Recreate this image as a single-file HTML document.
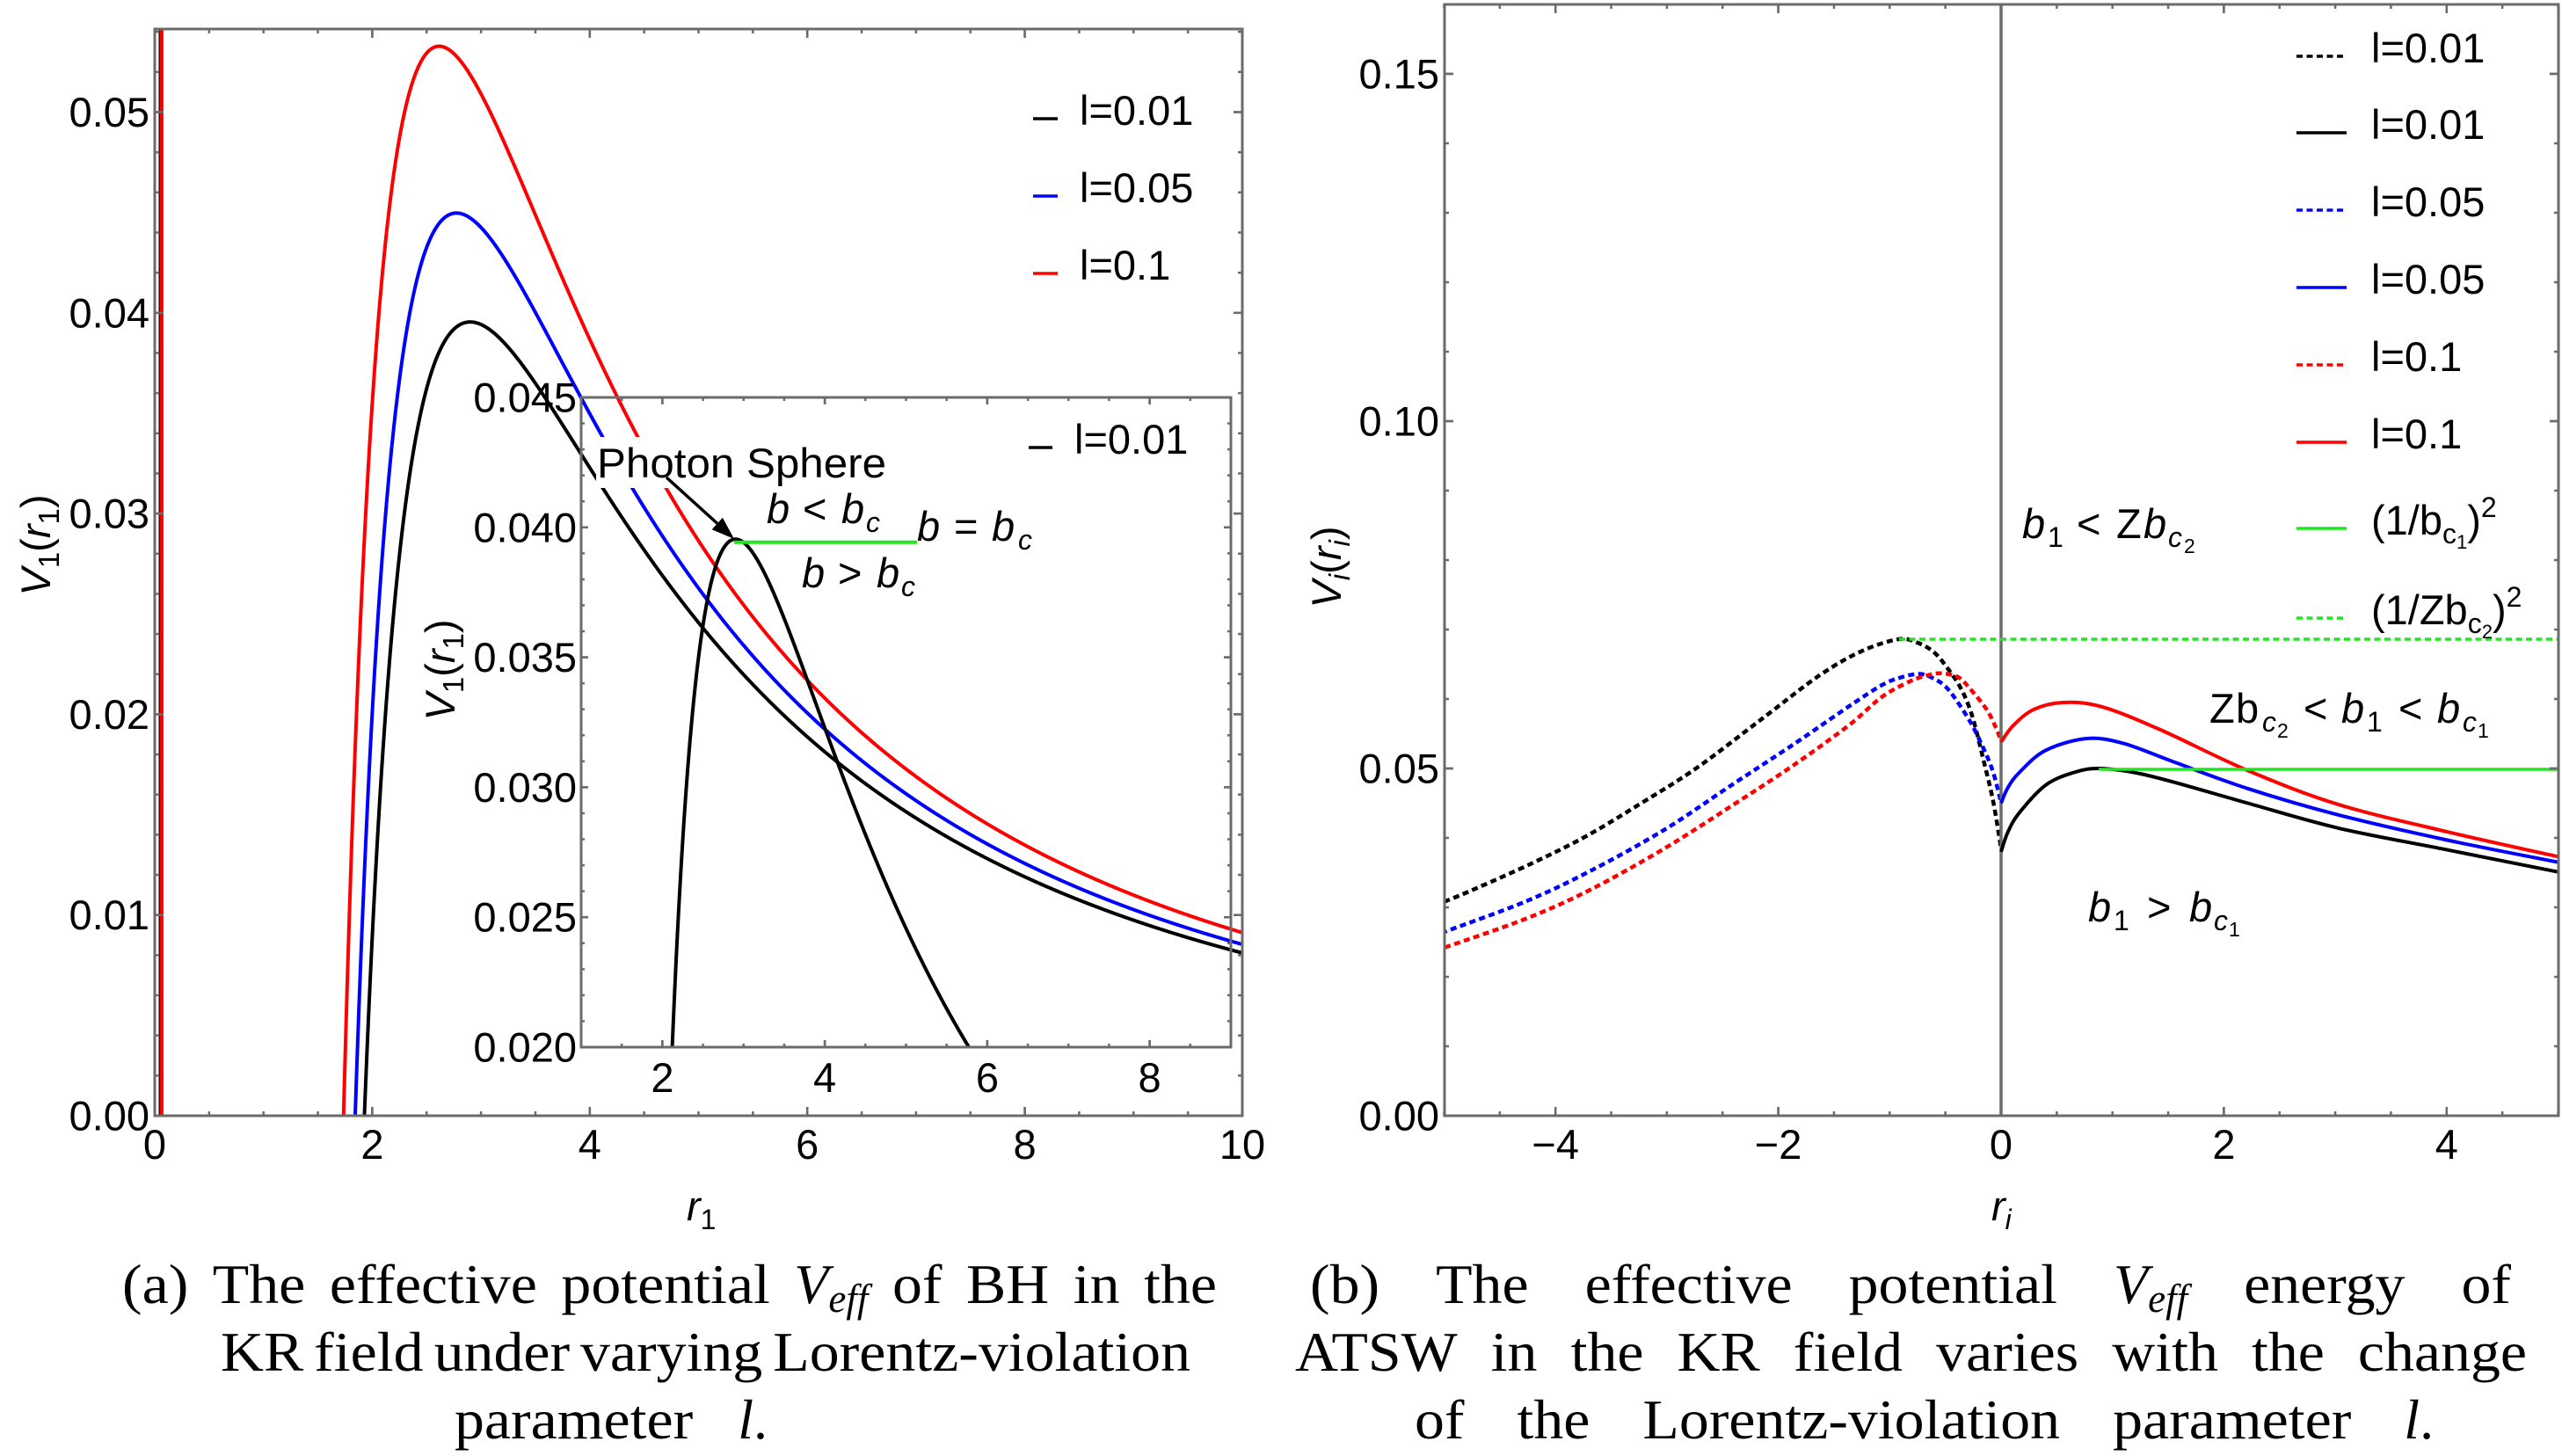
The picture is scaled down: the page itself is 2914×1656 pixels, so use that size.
<!DOCTYPE html>
<html><head><meta charset="utf-8">
<style>
html,body{margin:0;padding:0;background:#fff;}
svg{display:block;}
text{font-family:"Liberation Sans",Arial,sans-serif;fill:#000;}
.s{font-family:"Liberation Serif","Times New Roman",serif;}
.i{font-style:italic;}
</style></head><body>
<svg id="c" width="2914" height="1656" viewBox="0 0 2914 1656" xmlns="http://www.w3.org/2000/svg">
<rect x="0" y="0" width="2914" height="1656" fill="#fff"/>
<defs>
<clipPath id="cL"><rect x="176" y="33" width="1237" height="1236"/></clipPath>
<clipPath id="cI"><rect x="661" y="452" width="739" height="739"/></clipPath>
<clipPath id="cR"><rect x="1643" y="5" width="1267" height="1264"/></clipPath>
</defs>

<g id="gMain" clip-path="url(#cL)" fill="none" stroke-width="4" stroke-linejoin="round"></g>
<rect x="678" y="497" width="334" height="58" fill="#fff"/>
<g id="gIn" clip-path="url(#cI)" fill="none" stroke-width="4" stroke-linejoin="round"></g>

<rect x="176" y="33" width="1237" height="1236" fill="none" stroke="#6b6b6b" stroke-width="3"/>
<rect x="661" y="452" width="739" height="739" fill="none" stroke="#6b6b6b" stroke-width="3"/>

<g id="gRd" clip-path="url(#cR)" fill="none" stroke-width="4.5" stroke-dasharray="7 4.5"></g>
<line x1="2276" y1="5" x2="2276" y2="1269" stroke="#6b6b6b" stroke-width="3.5"/>
<g id="gRs" clip-path="url(#cR)" fill="none" stroke-width="4" stroke-linejoin="round"></g>
<line x1="2387" y1="875" x2="2910" y2="875" stroke="#22e622" stroke-width="3.5"/>
<line x1="2160" y1="727" x2="2910" y2="727" stroke="#22e622" stroke-width="3.5" stroke-dasharray="7 4.5"/>
<rect x="1643" y="5" width="1267" height="1264" fill="none" stroke="#6b6b6b" stroke-width="3"/>

<g id="gTicks" stroke="#6b6b6b" stroke-width="2.5"></g>

<line x1="835" y1="616.7" x2="1043" y2="616.7" stroke="#22e622" stroke-width="4"/>
<line x1="758" y1="543" x2="816" y2="595.5" stroke="#000" stroke-width="3.5"/>
<polygon points="835,613 809.7,602.2 821.9,588.8" fill="#000"/>

<g font-size="47">
<text x="170" y="1285.5" text-anchor="end">0.00</text>
<text x="170" y="1057.2" text-anchor="end">0.01</text>
<text x="170" y="828.9" text-anchor="end">0.02</text>
<text x="170" y="600.6" text-anchor="end">0.03</text>
<text x="170" y="372.3" text-anchor="end">0.04</text>
<text x="170" y="144" text-anchor="end">0.05</text>
<text x="176" y="1318" text-anchor="middle">0</text>
<text x="423.4" y="1318" text-anchor="middle">2</text>
<text x="670.8" y="1318" text-anchor="middle">4</text>
<text x="918.2" y="1318" text-anchor="middle">6</text>
<text x="1165.6" y="1318" text-anchor="middle">8</text>
<text x="1413" y="1318" text-anchor="middle">10</text>
<text x="656" y="1207.5" text-anchor="end">0.020</text>
<text x="656" y="1059.7" text-anchor="end">0.025</text>
<text x="656" y="911.9" text-anchor="end">0.030</text>
<text x="656" y="764.1" text-anchor="end">0.035</text>
<text x="656" y="616.3" text-anchor="end">0.040</text>
<text x="656" y="468.5" text-anchor="end">0.045</text>
<text x="753.4" y="1242" text-anchor="middle">2</text>
<text x="938.1" y="1242" text-anchor="middle">4</text>
<text x="1122.9" y="1242" text-anchor="middle">6</text>
<text x="1307.6" y="1242" text-anchor="middle">8</text>
<text x="1637" y="1285.5" text-anchor="end">0.00</text>
<text x="1637" y="890.5" text-anchor="end">0.05</text>
<text x="1637" y="495.5" text-anchor="end">0.10</text>
<text x="1637" y="100.5" text-anchor="end">0.15</text>
<text x="1769.2" y="1318" text-anchor="middle">−4</text>
<text x="2022.6" y="1318" text-anchor="middle">−2</text>
<text x="2276" y="1318" text-anchor="middle">0</text>
<text x="2529.4" y="1318" text-anchor="middle">2</text>
<text x="2782.8" y="1318" text-anchor="middle">4</text>

<line x1="1175" y1="135" x2="1203" y2="135" stroke="#000" stroke-width="3.5"/>
<line x1="1175" y1="223" x2="1203" y2="223" stroke="#0000ff" stroke-width="3.5"/>
<line x1="1175" y1="311" x2="1203" y2="311" stroke="#ff0000" stroke-width="3.5"/>
<text x="1228" y="142">l=0.01</text>
<text x="1228" y="230">l=0.05</text>
<text x="1228" y="318">l=0.1</text>
<line x1="1170" y1="509" x2="1197" y2="509" stroke="#000" stroke-width="3.5"/>
<text x="1222" y="516">l=0.01</text>

<text x="679" y="543" textLength="329" lengthAdjust="spacingAndGlyphs">Photon Sphere</text>
<text y="595"><tspan x="872" class="i">b</tspan><tspan x="913">&lt;</tspan><tspan x="957" class="i">b</tspan><tspan x="985" y="605" class="i" font-size="32">c</tspan></text>
<text y="615"><tspan x="1043" class="i">b</tspan><tspan x="1085">=</tspan><tspan x="1128" class="i">b</tspan><tspan x="1158" y="625" class="i" font-size="32">c</tspan></text>
<text y="668"><tspan x="912" class="i">b</tspan><tspan x="953">&gt;</tspan><tspan x="997" class="i">b</tspan><tspan x="1025" y="678" class="i" font-size="32">c</tspan></text>

<line x1="2612" y1="64" x2="2669" y2="64" stroke="#000" stroke-width="3.5" stroke-dasharray="7 4.5"/>
<line x1="2612" y1="151" x2="2669" y2="151" stroke="#000" stroke-width="3.5"/>
<line x1="2612" y1="239" x2="2669" y2="239" stroke="#0000ff" stroke-width="3.5" stroke-dasharray="7 4.5"/>
<line x1="2612" y1="327" x2="2669" y2="327" stroke="#0000ff" stroke-width="3.5"/>
<line x1="2612" y1="415" x2="2669" y2="415" stroke="#ff0000" stroke-width="3.5" stroke-dasharray="7 4.5"/>
<line x1="2612" y1="503" x2="2669" y2="503" stroke="#ff0000" stroke-width="3.5"/>
<line x1="2612" y1="601" x2="2669" y2="601" stroke="#22e622" stroke-width="3.5"/>
<line x1="2612" y1="703" x2="2669" y2="703" stroke="#22e622" stroke-width="3.5" stroke-dasharray="7 4.5"/>
<text x="2697" y="71">l=0.01</text>
<text x="2697" y="158">l=0.01</text>
<text x="2697" y="246">l=0.05</text>
<text x="2697" y="334">l=0.05</text>
<text x="2697" y="422">l=0.1</text>
<text x="2697" y="510">l=0.1</text>
<text x="2697" y="608">(1/b<tspan font-size="32" y="618">c</tspan><tspan font-size="22" y="624">1</tspan><tspan y="608">)</tspan><tspan font-size="32" y="588">2</tspan></text>
<text x="2697" y="710">(1/Zb<tspan font-size="32" y="720">c</tspan><tspan font-size="22" y="726">2</tspan><tspan y="710">)</tspan><tspan font-size="32" y="690">2</tspan></text>

<text y="612"><tspan x="2300" class="i">b</tspan><tspan x="2329" y="622" font-size="32">1</tspan><tspan x="2362" y="612">&lt;</tspan><tspan x="2407" y="612">Z</tspan><tspan x="2438" y="612" class="i">b</tspan><tspan x="2466" y="622" class="i" font-size="32">c</tspan><tspan x="2484" y="629" font-size="23">2</tspan></text>
<text y="822"><tspan x="2513">Z</tspan><tspan x="2543">b</tspan><tspan x="2573" y="832" class="i" font-size="32">c</tspan><tspan x="2590" y="839" font-size="23">2</tspan><tspan x="2620" y="822">&lt;</tspan><tspan x="2663" y="822" class="i">b</tspan><tspan x="2692" y="832" font-size="32">1</tspan><tspan x="2728" y="822">&lt;</tspan><tspan x="2772" y="822" class="i">b</tspan><tspan x="2801" y="832" class="i" font-size="32">c</tspan><tspan x="2818" y="839" font-size="23">1</tspan></text>
<text y="1048"><tspan x="2375" class="i">b</tspan><tspan x="2404" y="1058" font-size="32">1</tspan><tspan x="2442" y="1048">&gt;</tspan><tspan x="2490" y="1048" class="i">b</tspan><tspan x="2518" y="1058" class="i" font-size="32">c</tspan><tspan x="2535" y="1065" font-size="23">1</tspan></text>

<text x="781" y="1388"><tspan class="i">r</tspan><tspan font-size="32" y="1398">1</tspan></text>
<text x="2265" y="1388"><tspan class="i">r</tspan><tspan font-size="32" y="1398" class="i">i</tspan></text>
<text x="57" y="620" transform="rotate(-90 57 620)" text-anchor="middle"><tspan class="i">V</tspan><tspan font-size="33" dy="10">1</tspan><tspan dy="-10">(</tspan><tspan class="i">r</tspan><tspan font-size="33" dy="10">1</tspan><tspan dy="-10">)</tspan></text>
<text x="517" y="762" transform="rotate(-90 517 762)" text-anchor="middle"><tspan class="i">V</tspan><tspan font-size="33" dy="10">1</tspan><tspan dy="-10">(</tspan><tspan class="i">r</tspan><tspan font-size="33" dy="10">1</tspan><tspan dy="-10">)</tspan></text>
<text x="1525" y="645" transform="rotate(-90 1525 645)" text-anchor="middle"><tspan class="i">V</tspan><tspan font-size="33" dy="10" class="i">i</tspan><tspan dy="-10">(</tspan><tspan class="i">r</tspan><tspan font-size="33" dy="10" class="i">i</tspan><tspan dy="-10">)</tspan></text>
</g>

<g id="gCap"></g>
</svg>
<script>
(function(){
var NS='http://www.w3.org/2000/svg';
function el(tag,a,p){var e=document.createElementNS(NS,tag);for(var k in a)e.setAttribute(k,a[k]);p.appendChild(e);return e;}
function LX(r){return 176+r*123.7;} function LY(v){return 1269-v*22830;}
function IX(r){return 661+(r-1)*92.375;} function IY(v){return 1191-(v-0.02)*29560;}
function RX(r){return 2276+r*126.7;} function RY(v){return 1269-v*7900;}
function vbh(r,l){var a=1/(1-l),q=0.1/((1-l)*(1-l));return a/(r*r)-2/(r*r*r)+q/(r*r*r*r);}
function bh(l,X,Y,r0,r1){
  var d='',pts=[],r;
  for(r=r0;r<0.15;r+=0.0004)pts.push(r);
  for(r=Math.max(r0,0.15);r<=r1+1e-9;r+=0.004)pts.push(r);
  for(var i=0;i<pts.length;i++){r=pts[i];var y=Y(vbh(r,l));if(y<-50)y=-50;if(y>1400)y=1400;
    d+=(d?'L':'M')+X(r).toFixed(2)+' '+y.toFixed(2);}
  return d;}
var gM=document.getElementById('gMain');
el('path',{d:bh(0.01,LX,LY,0.03,10.05),stroke:'#000'},gM);
el('path',{d:bh(0.05,LX,LY,0.03,10.05),stroke:'#0000ff'},gM);
el('path',{d:bh(0.1,LX,LY,0.03,10.05),stroke:'#ff0000'},gM);
var gI=document.getElementById('gIn');
el('path',{d:bh(0.01,IX,IY,1.0,9.05),stroke:'#000'},gI);

function f(v){return v.toFixed(2);}
function cr(P){var d='M'+f(P[0][0])+' '+f(P[0][1]);
  for(var i=0;i<P.length-1;i++){var p0=P[Math.max(i-1,0)],p1=P[i],p2=P[i+1],p3=P[Math.min(i+2,P.length-1)];
    var c1=[p1[0]+(p2[0]-p0[0])/6,p1[1]+(p2[1]-p0[1])/6],c2=[p2[0]-(p3[0]-p1[0])/6,p2[1]-(p3[1]-p1[1])/6];
    d+='C'+f(c1[0])+' '+f(c1[1])+' '+f(c2[0])+' '+f(c2[1])+' '+f(p2[0])+' '+f(p2[1]);}
  return d;}
function rp(a){return a.map(function(p){return [RX(p[0]),RY(p[1])];});}
var blackDot=[[-5,0.0308],[-4.76,0.0324],[-4.23,0.0362],[-3.73,0.0402],[-3.23,0.0450],[-2.73,0.0501],[-2.15,0.0571],[-1.63,0.0634],[-1.25,0.0669],[-0.92,0.0686],[-0.75,0.0681],[-0.6,0.0667],[-0.47,0.0642],[-0.36,0.0615],[-0.26,0.0576],[-0.15,0.0507],[-0.07,0.0452],[0,0.0385]];
var blueDot=[[-5,0.0264],[-4.94,0.0268],[-4.26,0.0309],[-3.68,0.0353],[-3.02,0.0412],[-2.42,0.0476],[-1.86,0.0535],[-1.36,0.0590],[-1.07,0.0620],[-0.9,0.0631],[-0.73,0.0636],[-0.6,0.0629],[-0.47,0.0613],[-0.28,0.0568],[-0.15,0.0526],[-0.07,0.0494],[0,0.0451]];
var redDot=[[-5,0.0242],[-4.98,0.0243],[-4.26,0.0284],[-3.68,0.0326],[-3.02,0.0385],[-2.42,0.0446],[-1.86,0.0505],[-1.36,0.0563],[-1.07,0.0603],[-0.81,0.0626],[-0.66,0.0634],[-0.55,0.0637],[-0.39,0.0632],[-0.28,0.0615],[-0.13,0.0585],[-0.05,0.0560],[0,0.0540]];
var blackSol=[[0,0.0380],[0.06,0.0408],[0.163,0.0436],[0.4,0.0476],[0.65,0.0494],[0.874,0.0500],[1.2,0.0494],[1.557,0.0480],[2.215,0.0450],[3.03,0.0414],[4,0.0383],[5,0.0351]];
var blueSol=[[0,0.0450],[0.06,0.0472],[0.163,0.0494],[0.4,0.0526],[0.768,0.0543],[1.1,0.0536],[1.557,0.0509],[2.215,0.0471],[3.03,0.0433],[4,0.0397],[5,0.0365]];
var redSol=[[0,0.0538],[0.11,0.0562],[0.295,0.0585],[0.558,0.0595],[0.9,0.0589],[1.426,0.0556],[2.215,0.0497],[3.03,0.0448],[4,0.0409],[5,0.0373]];
var gRd=document.getElementById('gRd'),gRs=document.getElementById('gRs');
el('path',{d:cr(rp(blackDot)),stroke:'#000'},gRd);
el('path',{d:cr(rp(blueDot)),stroke:'#0000ff'},gRd);
el('path',{d:cr(rp(redDot)),stroke:'#ff0000'},gRd);
el('path',{d:cr(rp(blackSol)),stroke:'#000'},gRs);
el('path',{d:cr(rp(blueSol)),stroke:'#0000ff'},gRs);
el('path',{d:cr(rp(redSol)),stroke:'#ff0000'},gRs);

var gT=document.getElementById('gTicks');
function ln(x1,y1,x2,y2){el('line',{x1:f(x1),y1:f(y1),x2:f(x2),y2:f(y2)},gT);}
function isMaj(v,maj){for(var i=0;i<maj.length;i++)if(Math.abs(v-maj[i])<1e-7)return true;return false;}
function rng(a,b,s){var o=[];for(var k=0;a+k*s<=b+1e-9;k++)o.push(+(a+k*s).toFixed(6));return o;}
function axes(X,Y,x0,x1,y0,y1,xmaj,xmin,ymaj,ymin,LM,Ln){
  xmin.concat(xmaj).forEach(function(v){var L=isMaj(v,xmaj)?LM:Ln;var x=X(v);if(x<x0-0.5||x>x1+0.5)return;ln(x,y1,x,y1-L);ln(x,y0,x,y0+L);});
  ymin.concat(ymaj).forEach(function(v){var L=isMaj(v,ymaj)?LM:Ln;var y=Y(v);if(y<y0-0.5||y>y1+0.5)return;ln(x0,y,x0+L,y);ln(x1,y,x1-L,y);});
}
axes(LX,LY,176,1413,33,1269,rng(0,10,2),rng(0,10,0.5),rng(0,0.05,0.01),rng(0,0.054,0.002),10,5);
axes(IX,IY,661,1400,452,1191,rng(2,8,2),rng(1,9,0.5),rng(0.02,0.045,0.005),rng(0.02,0.045,0.001),8,4);
axes(RX,RY,1643,2910,5,1269,rng(-4,4,2),rng(-5,5,0.5),rng(0,0.15,0.05),rng(0,0.16,0.01),10,5);

/* captions */
var gC=document.getElementById('gCap');
var K=1.06;
function word(t,y,fs){
  var n=el('text',{x:0,y:y,'class':'s','font-size':fs},gC);
  if(t==='VEFF'){var a=el('tspan',{'class':'i'},n);a.textContent='V';var b=el('tspan',{'class':'i','font-size':Math.round(fs*0.7),y:y+10},n);b.textContent='eff';}
  else if(t==='L.'){var a2=el('tspan',{'class':'i'},n);a2.textContent='l';var b2=el('tspan',{},n);b2.textContent='.';}
  else n.textContent=t;
  var w=0;try{w=n.getComputedTextLength();}catch(e){}
  if(!w)w=t.length*fs*0.47;
  if(t!=='VEFF'&&t!=='L.'){w=w*K;n.setAttribute('textLength',w.toFixed(1));n.setAttribute('lengthAdjust','spacingAndGlyphs');}
  return [n,w];
}
function cap(y,x0,x1,toks,fs,maxGap){
  var nodes=[],ws=[],sum=0;
  toks.forEach(function(t){var r=word(t,y,fs);nodes.push(r[0]);ws.push(r[1]);sum+=r[1];});
  var gap=toks.length>1?(x1-x0-sum)/(toks.length-1):0;
  if(gap<12)gap=12;
  if(maxGap&&gap>maxGap)gap=maxGap;
  var x=x0;
  nodes.forEach(function(n,i){n.setAttribute('x',x.toFixed(1));x+=ws[i]+gap;});
}
cap(1482,139,1384,['(a)','The','effective','potential','VEFF','of','BH','in','the'],64);
cap(1559,251,1328,['KR','field','under','varying','Lorentz-violation'],64);
cap(1636,517,873,['parameter','L.'],64);
cap(1482,1490,2856,['(b)','The','effective','potential','VEFF','energy','of'],64);
cap(1559,1473,2874,['ATSW','in','the','KR','field','varies','with','the','change'],64);
cap(1636,1609,2874,['of','the','Lorentz-violation','parameter','L.'],64,60);
})();
</script>
</body></html>
